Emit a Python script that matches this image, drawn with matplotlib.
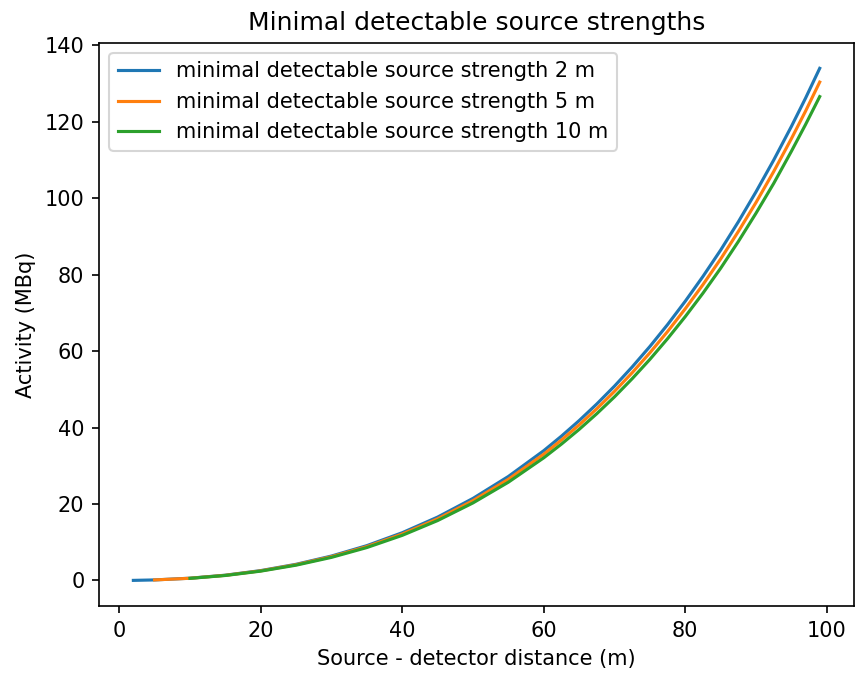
import matplotlib
matplotlib.use("Agg")
import matplotlib.pyplot as plt

# distances (m) and minimal detectable activities (MBq)
dist_2m = [2, 5, 10, 15, 20, 25, 30, 35, 40, 45, 50, 55, 60, 62.5, 65, 67.5, 70, 72.5,
           75, 77.5, 80, 82.5, 85, 87.5, 90, 92.5, 95, 97, 99]
act_2m = [0.02, 0.14, 0.59, 1.38, 2.58, 4.23, 6.39, 9.11, 12.49, 16.58, 21.47, 27.21,
          33.96, 37.76, 41.82, 46.18, 50.85, 55.87, 61.22, 66.95, 73.06, 79.55, 86.44,
          93.84, 101.7, 110.0, 118.8, 126.2, 134.0]

dist_5m = [5, 10, 15, 20, 25, 30, 35, 40, 45, 50, 55, 60, 62.5, 65, 67.5, 70, 72.5,
           75, 77.5, 80, 82.5, 85, 87.5, 90, 92.5, 95, 97, 99]
act_5m = [0.14, 0.57, 1.34, 2.51, 4.12, 6.22, 8.86, 12.15, 16.13, 20.89, 26.48,
          33.04, 36.74, 40.69, 44.93, 49.48, 54.36, 59.57, 65.14, 71.09, 77.40, 84.11,
          91.31, 98.9, 107.0, 115.6, 122.8, 130.4]

dist_10m = [10, 15, 20, 25, 30, 35, 40, 45, 50, 55, 60, 62.5, 65, 67.5, 70, 72.5,
            75, 77.5, 80, 82.5, 85, 87.5, 90, 92.5, 95, 97, 99]
act_10m = [0.55, 1.30, 2.44, 4.00, 6.04, 8.61, 11.80, 15.67, 20.29, 25.71,
           32.09, 35.68, 39.52, 43.64, 48.05, 52.80, 57.85, 63.27, 69.04, 75.17,
           81.69, 88.68, 96.1, 103.9, 112.3, 119.3, 126.6]

fig = plt.figure(figsize=(856 / 150, 677 / 150), dpi=150)
ax = fig.add_axes([0.1157, 0.1049, 0.882, 0.832])

ax.plot(dist_2m, act_2m, label="minimal detectable source strength 2 m")
ax.plot(dist_5m, act_5m, label="minimal detectable source strength 5 m")
ax.plot(dist_10m, act_10m, label="minimal detectable source strength 10 m")

ax.set_title("Minimal detectable source strengths")
ax.set_xlabel("Source - detector distance (m)")
ax.set_ylabel("Activity (MBq)")
ax.legend(loc="upper left")

fig.savefig("out.png", dpi=150)
